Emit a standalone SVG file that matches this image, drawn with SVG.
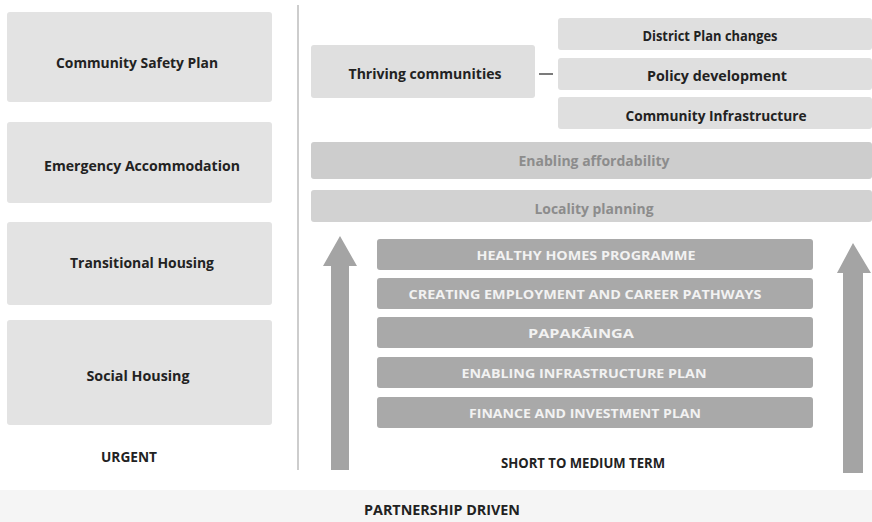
<svg xmlns="http://www.w3.org/2000/svg" width="872" height="522" viewBox="0 0 872 522">
<style>
.bg{fill:#ffffff}
.lbox{fill:#e3e3e3}
.tbox{fill:#dfdfdf}
.mbox{fill:#cdcdcd}
.ibox{fill:#a9a9a9}
.arrow{fill:#a4a4a4}
.t{font-family:"Open Sans","Liberation Sans",sans-serif;font-weight:bold;font-size:14px;fill:#222222;text-anchor:middle;dominant-baseline:central}
.tg{fill:#8c8c8c}
.tw{fill:#f2f2f2;font-size:13px}
</style>
<rect class="bg" x="0" y="0" width="872" height="522"/>
<rect x="0" y="490" width="872" height="32" fill="#f5f5f5"/>
<line x1="298" y1="5" x2="298" y2="470" stroke="#bdbdbd" stroke-width="1.5"/>

<g id="community-safety-plan"><rect class="lbox" x="7" y="12" width="265" height="90" rx="3"/><text class="t" x="137" y="62" textLength="162" lengthAdjust="spacingAndGlyphs">Community Safety Plan</text></g>
<g id="emergency-accommodation"><rect class="lbox" x="7" y="122" width="265" height="81" rx="3"/><text class="t" x="142" y="165" textLength="196" lengthAdjust="spacingAndGlyphs">Emergency Accommodation</text></g>
<g id="transitional-housing"><rect class="lbox" x="7" y="222" width="265" height="83" rx="3"/><text class="t" x="142" y="262" textLength="144" lengthAdjust="spacingAndGlyphs">Transitional Housing</text></g>
<g id="social-housing"><rect class="lbox" x="7" y="320" width="265" height="105" rx="3"/><text class="t" x="138" y="375" textLength="103" lengthAdjust="spacingAndGlyphs">Social Housing</text></g>
<g id="urgent"><text class="t" x="129" y="456" textLength="56" lengthAdjust="spacingAndGlyphs">URGENT</text></g>

<g id="thriving-communities"><rect class="tbox" x="311" y="45" width="224" height="53" rx="3"/><text class="t" x="425" y="73" textLength="153" lengthAdjust="spacingAndGlyphs">Thriving communities</text></g>
<g id="connectors"><line x1="539" y1="74" x2="553" y2="74" stroke="#333333" stroke-width="1.3"/></g>
<g id="district-plan-changes"><rect class="tbox" x="558" y="18" width="314" height="32" rx="3"/><text class="t" x="710" y="35" textLength="135" lengthAdjust="spacingAndGlyphs">District Plan changes</text></g>
<g id="policy-development"><rect class="tbox" x="558" y="58" width="314" height="32" rx="3"/><text class="t" x="717" y="75" textLength="140" lengthAdjust="spacingAndGlyphs">Policy development</text></g>
<g id="community-infrastructure"><rect class="tbox" x="558" y="97" width="314" height="32" rx="3"/><text class="t" x="716" y="115" textLength="181" lengthAdjust="spacingAndGlyphs">Community Infrastructure</text></g>

<g id="enabling-affordability"><rect class="mbox" x="311" y="142" width="561" height="37" rx="3"/><text class="t tg" x="594" y="160" textLength="151" lengthAdjust="spacingAndGlyphs">Enabling affordability</text></g>
<g id="locality-planning"><rect class="mbox" x="311" y="190" width="561" height="32" rx="3" style="fill:#d2d2d2"/><text class="t tg" x="594" y="208" textLength="119" lengthAdjust="spacingAndGlyphs">Locality planning</text></g>

<g id="healthy-homes"><rect class="ibox" x="377" y="239" width="436" height="31" rx="3"/><text class="t tw" x="586" y="255" textLength="219" lengthAdjust="spacingAndGlyphs">HEALTHY HOMES PROGRAMME</text></g>
<g id="creating-employment"><rect class="ibox" x="377" y="278" width="436" height="31" rx="3"/><text class="t tw" x="585" y="294" textLength="353" lengthAdjust="spacingAndGlyphs">CREATING EMPLOYMENT AND CAREER PATHWAYS</text></g>
<g id="papakainga"><rect class="ibox" x="377" y="317" width="436" height="31" rx="3"/><text class="t tw" x="581" y="333" textLength="106" lengthAdjust="spacingAndGlyphs">PAPAKĀINGA</text></g>
<g id="enabling-infrastructure"><rect class="ibox" x="377" y="357" width="436" height="31" rx="3"/><text class="t tw" x="584" y="373" textLength="245" lengthAdjust="spacingAndGlyphs">ENABLING INFRASTRUCTURE PLAN</text></g>
<g id="finance-investment"><rect class="ibox" x="377" y="397" width="436" height="31" rx="3"/><text class="t tw" x="585" y="413" textLength="232" lengthAdjust="spacingAndGlyphs">FINANCE AND INVESTMENT PLAN</text></g>

<g id="left-arrow"><path class="arrow" d="M331,470 L331,266 L323,266 L340,236 L357,266 L349,266 L349,470 Z"/></g>
<g id="right-arrow"><path class="arrow" d="M843,473 L843,273 L837,273 L853,243 L871,273 L863,273 L863,473 Z"/></g>

<g id="short-to-medium-term"><text class="t" x="583" y="462" textLength="164" lengthAdjust="spacingAndGlyphs">SHORT TO MEDIUM TERM</text></g>
<g id="partnership-driven"><text class="t" x="442" y="509" textLength="156" lengthAdjust="spacingAndGlyphs">PARTNERSHIP DRIVEN</text></g>
</svg>
